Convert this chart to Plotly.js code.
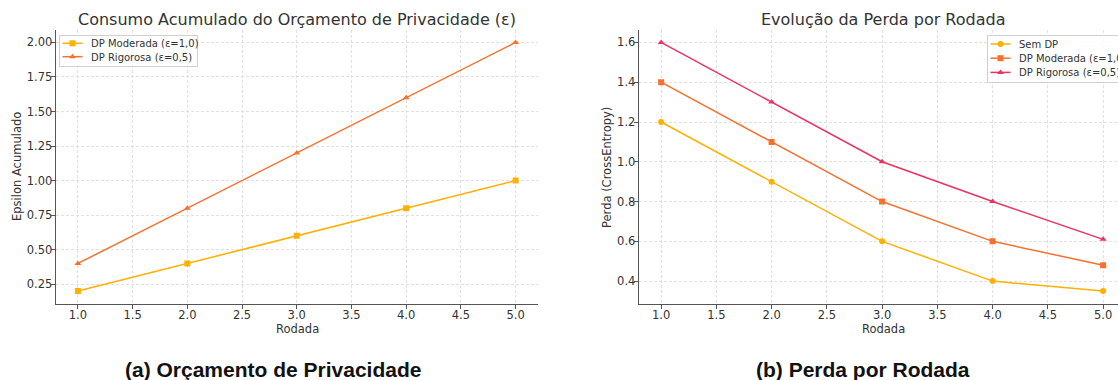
<!DOCTYPE html>
<html><head><meta charset="utf-8">
<script src="https://cdn.plot.ly/plotly-3.0.1.min.js"></script>
<style>html,body{margin:0;padding:0;background:#fff;}#chart{width:1118px;height:380px;}</style>
</head><body><div id="chart"></div>
<script>
const rodadas = [1, 2, 3, 4, 5];
const epsModerada = [0.2, 0.4, 0.6, 0.8, 1.0];
const epsRigorosa = [0.4, 0.8, 1.2, 1.6, 2.0];
const perdaSemDP = [1.2, 0.9, 0.6, 0.4, 0.35];
const perdaModerada = [1.4, 1.1, 0.8, 0.6, 0.48];
const perdaRigorosa = [1.6, 1.3, 1.0, 0.8, 0.61];

const cYellow = '#FFB000', cOrange = '#F7702E', cPink = '#EE3160';
const txt = '#333333';
const fontBase = 'DejaVu Sans, sans-serif';

const traces = [
  {x: rodadas, y: epsModerada, name: 'DP Moderada (ε=1,0)', mode: 'lines+markers', xaxis: 'x', yaxis: 'y', legend: 'legend',
   line: {color: cYellow, width: 1.5}, marker: {symbol: 'square', size: 6, color: cYellow}},
  {x: rodadas, y: epsRigorosa, name: 'DP Rigorosa (ε=0,5)', mode: 'lines+markers', xaxis: 'x', yaxis: 'y', legend: 'legend',
   line: {color: cOrange, width: 1.5}, marker: {symbol: 'triangle-up', size: 6, color: cOrange}},
  {x: rodadas, y: perdaSemDP, name: 'Sem DP', mode: 'lines+markers', xaxis: 'x2', yaxis: 'y2', legend: 'legend2',
   line: {color: cYellow, width: 1.5}, marker: {symbol: 'circle', size: 6, color: cYellow}},
  {x: rodadas, y: perdaModerada, name: 'DP Moderada (ε=1,0)', mode: 'lines+markers', xaxis: 'x2', yaxis: 'y2', legend: 'legend2',
   line: {color: cOrange, width: 1.5}, marker: {symbol: 'square', size: 6, color: cOrange}},
  {x: rodadas, y: perdaRigorosa, name: 'DP Rigorosa (ε=0,5)', mode: 'lines+markers', xaxis: 'x2', yaxis: 'y2', legend: 'legend2',
   line: {color: cPink, width: 1.5}, marker: {symbol: 'triangle-up', size: 6, color: cPink}}
];

const W = 1118, H = 380;
const px = v => v / W, py = v => 1 - v / H;

const axBase = {
  automargin: false,
  showline: true, linecolor: '#555', linewidth: 1.3, mirror: false,
  ticks: 'outside', ticklen: 4, tickcolor: '#555', tickwidth: 1,
  showgrid: true, gridcolor: '#d9d9d9', griddash: '3px,2px', gridwidth: 0.8,
  zeroline: false, tickfont: {family: fontBase, size: 11.5, color: txt}
};

const layout = {
  width: W, height: H, margin: {l: 0, r: 0, t: 0, b: 0, autoexpand: false},
  paper_bgcolor: '#fff', plot_bgcolor: '#fff',
  font: {family: fontBase, color: txt},
  xaxis: Object.assign({}, axBase, {domain: [px(56), px(537.5)], range: [0.8, 5.2], dtick: 0.5, tick0: 1, tickformat: '.1f', anchor: 'y', ticklabelstandoff: -4}),
  yaxis: Object.assign({}, axBase, {domain: [py(303.5), py(30)], range: [0.11, 2.09], dtick: 0.25, tick0: 0, tickformat: '.2f', anchor: 'x', ticklabelstandoff: -4}),
  xaxis2: Object.assign({}, axBase, {domain: [px(639), 1], range: [0.8, 0.8 + 479 / 110.5], dtick: 0.5, tick0: 1, tickformat: '.1f', anchor: 'y2', ticklabelstandoff: -4}),
  yaxis2: Object.assign({}, axBase, {domain: [py(303.5), py(30)], range: [0.2875, 1.6625], dtick: 0.2, tick0: 0, tickformat: '.1f', anchor: 'x2', ticklabelstandoff: -4}),
  showlegend: true,
  legend: {x: px(59), y: py(35), xanchor: 'left', yanchor: 'top', bgcolor: 'rgba(255,255,255,0.85)', bordercolor: '#d0d0d0', borderwidth: 1,
           font: {family: fontBase, size: 10, color: txt}, tracegroupgap: 0},
  legend2: {x: px(987), y: py(35), xanchor: 'left', yanchor: 'top', bgcolor: 'rgba(255,255,255,0.85)', bordercolor: '#d0d0d0', borderwidth: 1,
           font: {family: fontBase, size: 10, color: txt}, tracegroupgap: 0},
  annotations: [
    {text: 'Consumo Acumulado do Orçamento de Privacidade (ε)', xref: 'paper', yref: 'paper', x: px(297), y: py(19), showarrow: false, xanchor: 'center', yanchor: 'middle', font: {family: fontBase, size: 16, color: txt}},
    {text: 'Evolução da Perda por Rodada', xref: 'paper', yref: 'paper', x: px(883), y: py(19), showarrow: false, xanchor: 'center', yanchor: 'middle', font: {family: fontBase, size: 16, color: txt}},
    {text: 'Rodada', xref: 'paper', yref: 'paper', x: px(297), y: py(328.5), showarrow: false, xanchor: 'center', yanchor: 'middle', font: {family: fontBase, size: 11.5, color: txt}},
    {text: 'Rodada', xref: 'paper', yref: 'paper', x: px(883), y: py(328.5), showarrow: false, xanchor: 'center', yanchor: 'middle', font: {family: fontBase, size: 11.5, color: txt}},
    {text: 'Epsilon Acumulado', xref: 'paper', yref: 'paper', x: px(17), y: py(167), textangle: -90, showarrow: false, xanchor: 'center', yanchor: 'middle', font: {family: fontBase, size: 11.5, color: txt}},
    {text: 'Perda (CrossEntropy)', xref: 'paper', yref: 'paper', x: px(607), y: py(167), textangle: -90, showarrow: false, xanchor: 'center', yanchor: 'middle', font: {family: fontBase, size: 11.5, color: txt}},
    {text: '<b>(a) Orçamento de Privacidade</b>', xref: 'paper', yref: 'paper', x: px(273), y: py(369), showarrow: false, xanchor: 'center', yanchor: 'middle', font: {family: 'Liberation Sans, Arial, sans-serif', size: 21, color: '#111'}},
    {text: '<b>(b) Perda por Rodada</b>', xref: 'paper', yref: 'paper', x: px(863), y: py(369), showarrow: false, xanchor: 'center', yanchor: 'middle', font: {family: 'Liberation Sans, Arial, sans-serif', size: 21, color: '#111'}}
  ]
};

function placeLeft(el, targetLeft) {
  el.removeAttribute('transform');
  const r = el.getBoundingClientRect();
  const dx = targetLeft - r.left;
  if (Math.abs(dx) > 0.3) el.setAttribute('transform', 'translate(' + dx + ',0)');
}
function placeCenter(el, targetCx) {
  const r = el.getBoundingClientRect();
  const dx = targetCx - (r.left + r.width / 2);
  if (Math.abs(dx) > 0.3) {
    const base = el.getAttribute('transform') || '';
    el.setAttribute('transform', 'translate(' + dx + ',0) ' + base);
  }
}

// absolute page positions of the reference legends
const legendCfg = [
  {boxLeft: 59, firstY: 8.3, rowH: 13.4, boxW: 138, boxH: 31},
  {boxLeft: 987, firstY: 9, rowH: 14.2, boxW: 140, boxH: 46.5}
];

function fixLegends() {
  document.querySelectorAll('rect.bg').forEach(bg => {
    try {
      const leg = bg.parentNode;
      if (!leg || !leg.querySelector('g.traces')) return;
      const left = bg.getBoundingClientRect().left;
      const cfg = left < 500 ? legendCfg[0] : legendCfg[1];
      const items = leg.querySelectorAll('g.traces');
      items.forEach((it, i) => {
        it.setAttribute('transform', 'translate(0,' + (cfg.firstY + i * cfg.rowH) + ')');
        it.querySelectorAll('g.legendlines path').forEach(p => p.setAttribute('d', 'M0,0h20'));
      });
      bg.setAttribute('width', cfg.boxW);
      bg.setAttribute('height', cfg.boxH);
      items.forEach(it => {
        it.querySelectorAll('text').forEach(t => placeLeft(t, cfg.boxLeft + 32));
        it.querySelectorAll('g.legendlines').forEach(g => placeLeft(g, cfg.boxLeft + 3.5));
        it.querySelectorAll('g.legendpoints path').forEach(p => placeCenter(p, cfg.boxLeft + 13.5));
      });
    } catch (e) {}
  });
}

const gd = document.getElementById('chart');
Plotly.newPlot(gd, traces, layout, {staticPlot: true, displayModeBar: false}).then(() => {
  fixLegends();
  requestAnimationFrame(() => fixLegends());
});
</script>
</body></html>
